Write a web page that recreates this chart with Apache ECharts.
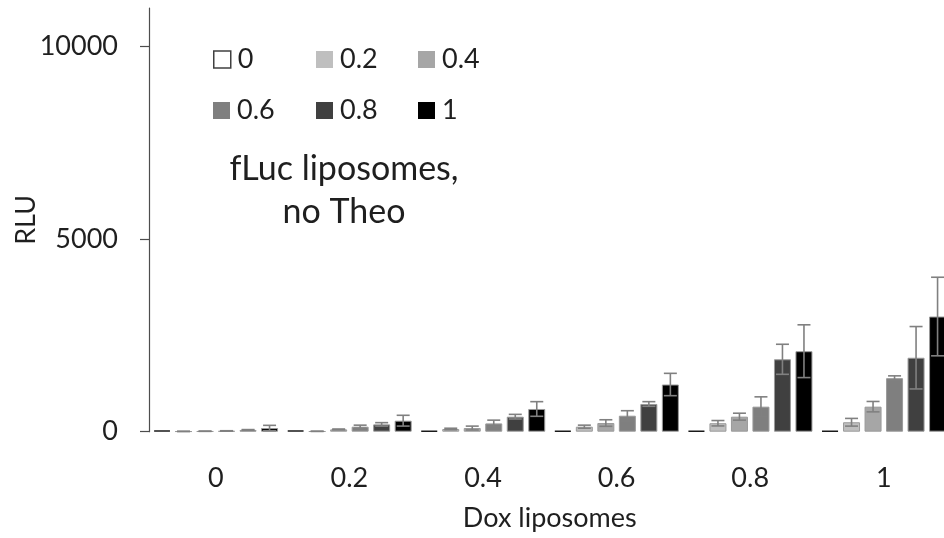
<!DOCTYPE html>
<html>
<head>
<meta charset="utf-8">
<script src="https://cdn.jsdelivr.net/npm/echarts@6/dist/echarts.min.js"></script>
<style>
  html, body { margin: 0; padding: 0; background: #ffffff; }
  #chart { width: 944px; height: 538px; }
</style>
</head>
<body>
<div id="chart"></div>
<script>
// Dox liposome fraction on the x axis, one bar per fLuc liposome fraction
const categories = ['0', '0.2', '0.4', '0.6', '0.8', '1'];
const seriesNames = ['0', '0.2', '0.4', '0.6', '0.8', '1'];

// Mean RLU per group (one array per fLuc fraction)
const rluF0  = [30, 30, 25, 25, 25, 25];
const rluF02 = [8, 10, 70, 130, 220, 245];
const rluF04 = [12, 60, 95, 225, 390, 650];
const rluF06 = [20, 130, 215, 415, 650, 1390];
const rluF08 = [45, 190, 390, 720, 1880, 1920];
const rluF1  = [95, 286, 590, 1225, 2090, 2990];

// Error bar half-lengths (RLU)
const errF0  = [0, 0, 0, 0, 0, 0];
const errF02 = [3, 3, 20, 40, 70, 100];
const errF04 = [3, 10, 50, 85, 90, 135];
const errF06 = [5, 40, 85, 130, 255, 60];
const errF08 = [10, 45, 60, 60, 390, 810];
const errF1  = [70, 140, 190, 290, 685, 1020];

const yTicks = [0, 5000, 10000];
const yMax = 11000;

const values = [rluF0, rluF02, rluF04, rluF06, rluF08, rluF1];
const errors = [errF0, errF02, errF04, errF06, errF08, errF1];

const FONT = 'Lato, "Open Sans", sans-serif';
const TEXT = '#1f1f1f';
const fills = ['#ffffff', '#bfbfbf', '#a6a6a6', '#7f7f7f', '#404040', '#000000'];
const BAR_W = 17;
const GAP = 0.265;
const PITCH = BAR_W * (1 + GAP);

const barSeries = values.map((vals, i) => ({
  type: 'bar',
  name: seriesNames[i],
  data: vals,
  barWidth: BAR_W,
  barGap: (GAP * 100) + '%',
  itemStyle: {
    color: fills[i],
    borderColor: i === 0 ? '#1a1a1a' : '#9a9a9a',
    borderWidth: i === 0 ? 1.5 : 1
  },
  emphasis: { disabled: true }
}));

// [category index, mean, error, series index]
const errData = [];
values.forEach((vals, s) => {
  vals.forEach((v, c) => errData.push([c, v, errors[s][c], s]));
});

const errorSeries = {
  type: 'custom',
  silent: true,
  z: 5,
  data: errData,
  encode: { x: 0, y: 1 },
  renderItem: function (params, api) {
    const c = api.value(0), v = api.value(1), e = api.value(2), s = api.value(3);
    if (!e) return null;
    const off = (s - (seriesNames.length - 1) / 2) * PITCH;
    const hi = api.coord([c, v + e]);
    const lo = api.coord([c, Math.max(v - e, 0)]);
    const x = hi[0] + off;
    const capHalf = 6.5;
    const style = { stroke: '#808080', lineWidth: 1.6 };
    return {
      type: 'group',
      children: [
        { type: 'line', shape: { x1: x, y1: lo[1], x2: x, y2: hi[1] }, style: style },
        { type: 'line', shape: { x1: x - capHalf, y1: hi[1], x2: x + capHalf, y2: hi[1] }, style: style },
        { type: 'line', shape: { x1: x - capHalf, y1: lo[1], x2: x + capHalf, y2: lo[1] }, style: style }
      ]
    };
  }
};

// Legend laid out as two rows of three
const legendLeft = [213, 316, 418];
const legendTop = [46, 97];
const legends = seriesNames.map((n, i) => ({
  data: [n],
  left: legendLeft[i % 3],
  top: legendTop[Math.floor(i / 3)],
  padding: 0,
  itemWidth: 17,
  itemHeight: 17,
  icon: 'rect',
  selectedMode: false,
  textStyle: { fontFamily: FONT, fontSize: 27, color: TEXT, padding: [0, 0, 0, 2] },
  itemStyle: i === 0 ? { borderColor: '#404040', borderWidth: 1.5 } : { borderWidth: 0 }
}));

const chart = echarts.init(document.getElementById('chart'), null, { renderer: 'canvas' });
chart.setOption({
  animation: false,
  backgroundColor: '#ffffff',
  grid: { left: 149, top: 8, width: 801.6, bottom: 106.3, containLabel: false, outerBoundsMode: 'none' },
  legend: legends,
  xAxis: {
    type: 'category',
    data: categories,
    boundaryGap: true,
    axisLine: { show: false },
    axisTick: { show: false },
    axisLabel: { fontFamily: FONT, fontSize: 27, color: TEXT, margin: 33 },
    name: 'Dox liposomes',
    nameLocation: 'middle',
    nameGap: 73,
    nameMoveOverlap: false,
    nameTextStyle: { fontFamily: FONT, fontSize: 27, color: TEXT }
  },
  yAxis: {
    type: 'value',
    min: 0,
    max: yMax,
    splitLine: { show: false },
    axisLine: { show: true, lineStyle: { color: '#4d4d4d', width: 1.2 } },
    axisTick: { show: true, inside: false, length: 9, customValues: yTicks, lineStyle: { color: '#4d4d4d', width: 1.2 } },
    axisLabel: {
      fontFamily: FONT, fontSize: 27, color: TEXT, margin: 31, customValues: yTicks,
      formatter: function (v) { return String(v); }
    },
    name: 'RLU',
    nameLocation: 'middle',
    nameGap: 109,
    nameMoveOverlap: false,
    nameTextStyle: { fontFamily: FONT, fontSize: 27, color: TEXT }
  },
  graphic: [{
    type: 'text',
    x: 344,
    y: 148,
    style: {
      text: 'fLuc liposomes,\nno Theo',
      fontFamily: FONT,
      fontSize: 34,
      lineHeight: 43,
      fill: TEXT,
      align: 'center',
      verticalAlign: 'top'
    }
  }],
  series: barSeries.concat([errorSeries])
});
</script>
</body>
</html>
